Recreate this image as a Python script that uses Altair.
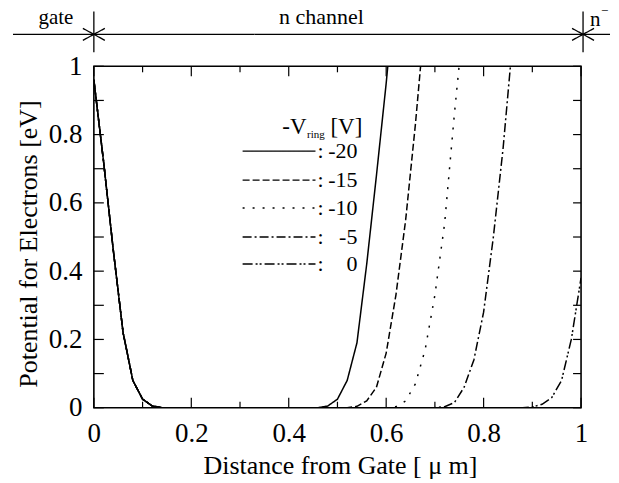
import altair as alt
import pandas as pd

# ---- data ----
series_names = ["-20", "-15", "-10", "-5", "0"]

gate_x = [0.0, 0.02, 0.04, 0.06, 0.08, 0.10, 0.12, 0.14]
gate_y = [0.96, 0.72, 0.46, 0.22, 0.08, 0.025, 0.005, 0.0]

rise_x = {
    "-20": [0.46, 0.48, 0.50, 0.52, 0.54, 0.56, 0.58, 0.60, 0.62],
    "-15": [0.52, 0.54, 0.56, 0.58, 0.60, 0.62, 0.64, 0.66, 0.68],
    "-10": [0.60, 0.62, 0.64, 0.66, 0.68, 0.70, 0.72, 0.74, 0.76],
    "-5":  [0.70, 0.72, 0.74, 0.76, 0.78, 0.80, 0.82, 0.84, 0.86],
    "0":   [0.88, 0.90, 0.92, 0.94, 0.96, 0.98, 1.00],
}
rise_y = {
    "-20": [0.0, 0.005, 0.025, 0.08, 0.19, 0.42, 0.68, 0.95, 1.25],
    "-15": [0.0, 0.004, 0.02, 0.06, 0.16, 0.33, 0.55, 0.83, 1.15],
    "-10": [0.0, 0.003, 0.02, 0.07, 0.17, 0.33, 0.54, 0.86, 1.15],
    "-5":  [0.0, 0.003, 0.015, 0.06, 0.14, 0.28, 0.50, 0.76, 1.08],
    "0":   [0.0, 0.002, 0.01, 0.03, 0.08, 0.20, 0.38],
}

x_major = [0.0, 0.2, 0.4, 0.6, 0.8, 1.0]
x_minor = [0.1, 0.3, 0.5, 0.7, 0.9]
y_major = [0.0, 0.2, 0.4, 0.6, 0.8, 1.0]
y_minor = [0.1, 0.3, 0.5, 0.7, 0.9]

dash_styles = [[1, 0], [7, 3], [2, 8], [9, 3, 2, 3], [10, 3, 2, 2, 2, 3]]
legend_rows_y = [85, 114, 142, 171, 198]

W, H = 488, 342
FONT = "'Liberation Serif', 'Times New Roman', 'DejaVu Serif', serif"

rows = []
for order, s in enumerate(series_names):
    xs = gate_x + rise_x[s]
    ys = gate_y + rise_y[s]
    for i, (xv, yv) in enumerate(zip(xs, ys)):
        rows.append({"series": s, "x": xv, "y": yv, "i": i})
df = pd.DataFrame(rows)

xscale = alt.Scale(domain=[0, 1], nice=False, zero=False)
yscale = alt.Scale(domain=[0, 1], nice=False, zero=False)

curves = alt.Chart(df).mark_line(clip=True, color="black", strokeWidth=1.5).encode(
    x=alt.X("x:Q", scale=xscale, title=None,
            axis=alt.Axis(values=x_major, format="~g", ticks=False, domain=False, grid=False,
                          labelFont=FONT, labelFontSize=27, labelColor="black",
                          labelPadding=13, labelFlush=False)),
    y=alt.Y("y:Q", scale=yscale, title=None,
            axis=alt.Axis(values=y_major, format="~g", ticks=False, domain=False, grid=False,
                          labelFont=FONT, labelFontSize=27, labelColor="black",
                          labelPadding=12, labelFlush=False)),
    strokeDash=alt.StrokeDash("series:N", scale=alt.Scale(domain=series_names, range=dash_styles),
                              legend=None),
    order="i:Q",
    detail="series:N",
)

# inward ticks
xt_major = pd.DataFrame({"v": x_major})
xt_minor = pd.DataFrame({"v": x_minor})
yt_all = pd.DataFrame({"v": y_major + y_minor})

def xticks(data, length):
    bottom = alt.Chart(data).mark_rule(color="black", strokeWidth=1.2).encode(
        x=alt.X("v:Q", scale=xscale), y=alt.value(H), y2=alt.value(H - length))
    top = alt.Chart(data).mark_rule(color="black", strokeWidth=1.2).encode(
        x=alt.X("v:Q", scale=xscale), y=alt.value(0), y2=alt.value(length))
    return [bottom, top]

yl = alt.Chart(yt_all).mark_rule(color="black", strokeWidth=1.2).encode(
    y=alt.Y("v:Q", scale=yscale), x=alt.value(0), x2=alt.value(10))
yr = alt.Chart(yt_all).mark_rule(color="black", strokeWidth=1.2).encode(
    y=alt.Y("v:Q", scale=yscale), x=alt.value(W), x2=alt.value(W - 8))

layers = [curves] + xticks(xt_major, 10) + xticks(xt_minor, 6) + [yl, yr]

def rule(x1, y1, x2, y2, **kw):
    return alt.Chart().mark_rule(color="black", strokeWidth=kw.get("sw", 1.3),
                                 strokeDash=kw.get("dash", [1, 0])).encode(
        x=alt.value(x1), y=alt.value(y1), x2=alt.value(x2), y2=alt.value(y2))

def text(t, x, y, size, align="center", baseline="alphabetic", angle=0):
    return alt.Chart().mark_text(text=t, font=FONT, fontSize=size, color="black",
                                 align=align, baseline=baseline, angle=angle).encode(
        x=alt.value(x), y=alt.value(y))

# top annotation bar
layers.append(rule(-81, -32, 517, -32))
for xc in [0, 490]:
    layers.append(rule(xc, -55, xc, -14))
    layers.append(rule(xc - 11, -38, xc + 11, -26))
    layers.append(rule(xc - 11, -26, xc + 11, -38))
layers.append(text("gate", -38, -42, 21))
layers.append(text("n channel", 228, -42, 22))
layers.append(text("n", 497, -40, 21, align="left"))
layers.append(text("\u2212", 508, -51, 13, align="left"))

# axis titles
layers.append(text("Distance from Gate [ \u03bc m]", 247, 408, 26))
layers.append(text("Potential for Electrons [eV]", -65, 178, 26, baseline="middle", angle=270))

# legend
layers.append(text("-V", 213, 68, 23, align="right"))
layers.append(text("ring", 213.5, 72, 11, align="left"))
layers.append(text("[V]", 237, 68, 23, align="left"))
for s, d, yy in zip(series_names, dash_styles, legend_rows_y):
    layers.append(rule(149, yy, 222, yy, dash=d, sw=1.4))
    layers.append(text(":", 227, yy + 7, 22))
    layers.append(text(s, 264, yy + 7, 22, align="right"))

chart = alt.layer(*layers).properties(
    width=W, height=H,
    autosize=alt.AutoSizeParams(type="none"),
    padding={"left": 86, "top": 58, "right": 30, "bottom": 73},
).configure_view(stroke="black", strokeWidth=1.6)

chart.save("out.html", embed_options={"renderer": "svg", "actions": False})
